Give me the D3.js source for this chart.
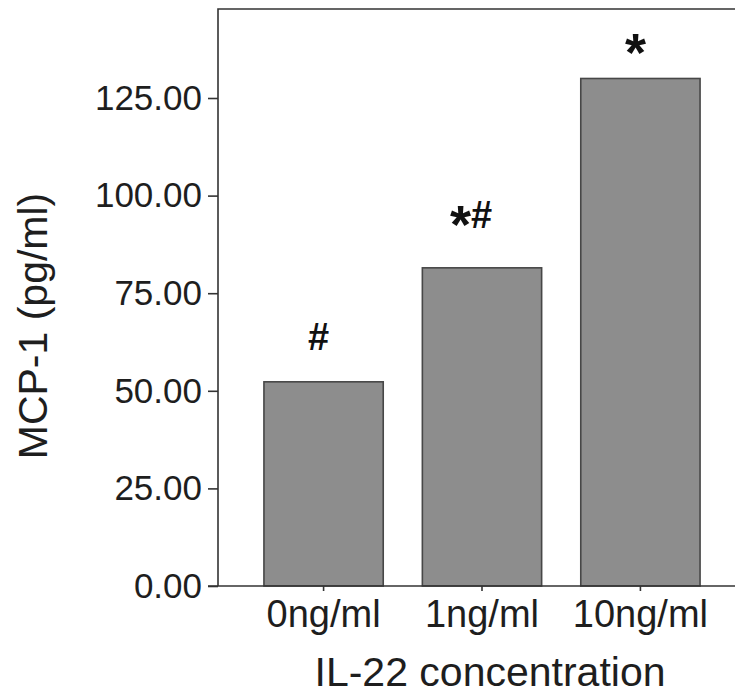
<!DOCTYPE html>
<html>
<head>
<meta charset="utf-8">
<script src="https://cdn.jsdelivr.net/npm/d3@7"></script>
<style>
  body { margin: 0; background: #fff; }
  svg { display: block; font-family: Arial, "Liberation Sans", sans-serif; }
  .axis path, .axis line { stroke: #333; stroke-width: 1.6; }
  .axis text { fill: #1e1e1e; }
</style>
</head>
<body>
<div id="chart"></div>
<script>
// data
var groups = ['0ng/ml', '1ng/ml', '10ng/ml']
var mcp1 = [52.3, 81.5, 130.0]
var marks = ['#', '*#', '*']
var yTicks = [0, 25, 50, 75, 100, 125]

var W = 735, H = 697
var margin = { top: 9, left: 218, bottom: 111 }
var plotBottom = H - margin.bottom

var svg = d3.select('#chart').append('svg')
  .attr('width', W)
  .attr('height', H)

var x = d3.scaleBand()
  .domain(groups)
  .range([margin.left, 746])
  .paddingInner(0.247)
  .paddingOuter(0.29)

var y = d3.scaleLinear()
  .domain([0, 147.8])
  .range([plotBottom, margin.top])

// frame (right side runs off the picture)
svg.append('path')
  .attr('d', 'M' + margin.left + ',' + plotBottom + 'V' + margin.top + 'H' + 760)
  .attr('fill', 'none')
  .attr('stroke', '#333')
  .attr('stroke-width', 1.6)

// bars
svg.append('g').selectAll('rect')
  .data(groups)
  .enter().append('rect')
  .attr('x', d => x(d))
  .attr('width', x.bandwidth())
  .attr('y', (d, i) => y(mcp1[i]))
  .attr('height', (d, i) => y(0) - y(mcp1[i]))
  .attr('fill', '#8d8d8d')
  .attr('stroke', '#474747')
  .attr('stroke-width', 1.6)

// significance marks, '*' drawn larger so it matches the '#'
var lift = { '#': 32, '*#': 40, '*': 22 }
svg.append('g').selectAll('text')
  .data(groups)
  .enter().append('text')
  .attr('x', (d, i) => x(d) + x.bandwidth() / 2 - 5 - 6 * (marks[i].length - 1))
  .attr('y', (d, i) => y(mcp1[i]) - lift[marks[i]])
  .attr('text-anchor', 'middle')
  .attr('font-weight', 'bold')
  .attr('fill', '#111')
  .each(function(d, i) {
    var t = d3.select(this)
    var shift = 0
    marks[i].split('').forEach(function(c) {
      var want = c === '*' ? 15 : 0
      t.append('tspan')
        .attr('font-size', c === '*' ? 54 : 38)
        .attr('dy', want - shift)
        .text(c)
      shift = want
    })
  })

// y axis
svg.append('g')
  .attr('class', 'axis')
  .attr('transform', 'translate(' + margin.left + ',0)')
  .call(d3.axisLeft(y).tickValues(yTicks).tickSize(10).tickPadding(6)
    .tickFormat(d3.format('.2f')))
  .call(g => g.select('.domain').remove())
  .call(g => g.selectAll('text').attr('font-size', 35))

// x axis
svg.append('g')
  .attr('class', 'axis')
  .attr('transform', 'translate(0,' + plotBottom + ')')
  .call(d3.axisBottom(x).tickSize(5).tickPadding(9).tickSizeOuter(0))
  .call(g => g.select('.domain').attr('d', 'M208,0H760'))
  .call(g => g.selectAll('text').attr('font-size', 38))

svg.append('text')
  .attr('x', 490)
  .attr('y', 686)
  .attr('text-anchor', 'middle')
  .attr('font-size', 41)
  .attr('fill', '#1e1e1e')
  .text('IL-22 concentration')

svg.append('text')
  .attr('transform', 'translate(47,326) rotate(-90)')
  .attr('text-anchor', 'middle')
  .attr('font-size', 41)
  .attr('fill', '#1e1e1e')
  .text('MCP-1 (pg/ml)')
</script>
</body>
</html>
